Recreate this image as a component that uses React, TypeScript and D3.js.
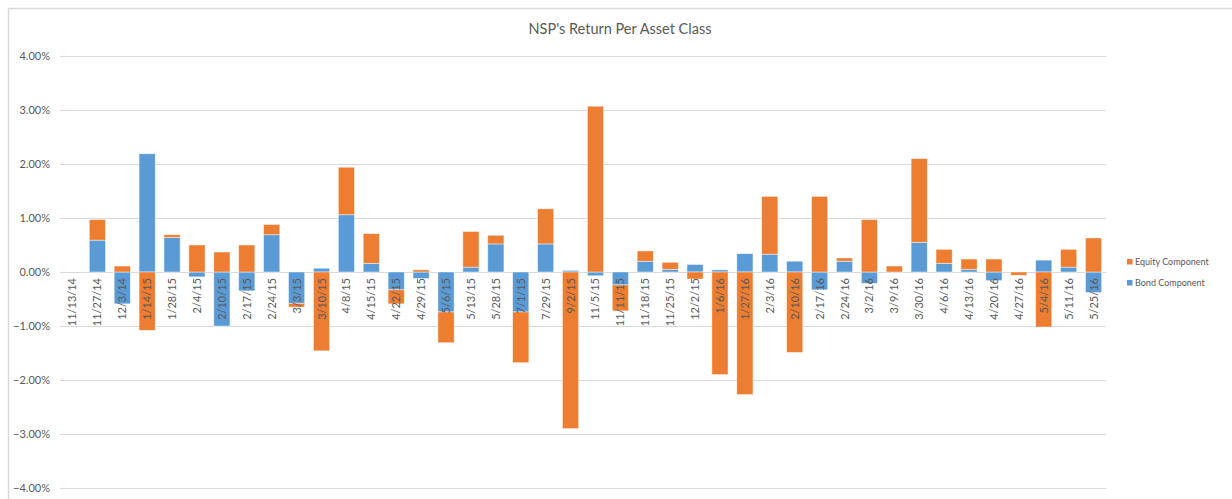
import React, { useEffect, useRef } from "react";
import * as d3 from "d3";

const categories = [
  "11/13/14", "11/27/14", "12/3/14", "1/14/15", "1/28/15", "2/4/15", "2/10/15", "2/17/15",
  "2/24/15", "3/3/15", "3/10/15", "4/8/15", "4/15/15", "4/22/15", "4/29/15", "5/6/15",
  "5/13/15", "5/28/15", "7/1/15", "7/29/15", "9/2/15", "11/5/15", "11/11/15", "11/18/15",
  "11/25/15", "12/2/15", "1/6/16", "1/27/16", "2/3/16", "2/10/16", "2/17/16", "2/24/16",
  "3/2/16", "3/9/16", "3/30/16", "4/6/16", "4/13/16", "4/20/16", "4/27/16", "5/4/16",
  "5/11/16", "5/25/16",
];

// values in percent
const bondComponent = [
  0, 0.59, -0.59, 2.19, 0.64, -0.09, -1.0, -0.35,
  0.69, -0.58, 0.07, 1.06, 0.16, -0.33, -0.12, -0.74,
  0.09, 0.52, -0.74, 0.52, 0.03, -0.07, -0.24, 0.2,
  0.05, 0.14, 0.04, 0.34, 0.33, 0.2, -0.33, 0.2,
  -0.21, 0, 0.55, 0.16, 0.05, -0.16, 0, 0.22,
  0.09, -0.38,
];

const equityComponent = [
  0, 0.38, 0.11, -1.08, 0.05, 0.5, 0.37, 0.5,
  0.19, -0.07, -1.46, 0.88, 0.55, -0.26, 0.04, -0.57,
  0.66, 0.16, -0.94, 0.65, -2.9, 3.07, -0.48, 0.19,
  0.13, -0.13, -1.9, -2.27, 1.07, -1.49, 1.4, 0.06,
  0.97, 0.11, 1.55, 0.26, 0.19, 0.24, -0.06, -1.02,
  0.33, 0.63,
];

const yTicks = [4, 3, 2, 1, 0, -1, -2, -3, -4];
const seriesNames = ["Bond Component", "Equity Component"];
const seriesColors = ["#5b9bd5", "#ed7d31"];
const title = "NSP's Return Per Asset Class";

export default function App() {
  const ref = useRef<SVGSVGElement | null>(null);

  useEffect(() => {
    const svg = d3.select(ref.current);
    svg.selectAll("*").remove();
    const W = 1232, H = 499;
    const left = 60, right = 1106, top = 56, bottom = 488;
    const font = "Lato, 'Open Sans', sans-serif";
    const textColor = "#595959";

    // frame
    svg.append("rect").attr("x", 8.5).attr("y", 8.5).attr("width", W).attr("height", H)
      .attr("fill", "#fff").attr("stroke", "#d9d9d9").attr("stroke-width", 1.5);

    svg.append("text").attr("x", 620).attr("y", 34).attr("text-anchor", "middle")
      .attr("font-family", font).attr("font-size", 14.5).attr("fill", textColor).text(title);

    const x = d3.scaleBand<string>().domain(categories).range([left, right]).paddingInner(0.35).paddingOuter(0.175);
    const y = d3.scaleLinear().domain([-4, 4]).range([bottom, top]);

    // gridlines
    svg.append("g").selectAll("line").data(yTicks).join("line")
      .attr("x1", left).attr("x2", right)
      .attr("y1", (d) => Math.round(y(d)) + 0.5).attr("y2", (d) => Math.round(y(d)) + 0.5)
      .attr("stroke", "#d9d9d9").attr("stroke-width", 1);

    svg.append("g").selectAll("text").data(yTicks).join("text")
      .attr("x", 50).attr("y", (d) => y(d) + 4).attr("text-anchor", "end")
      .attr("font-family", font).attr("font-size", 11).attr("fill", textColor)
      .text((d) => d3.format(".2f")(d) + "%");

    const rows = categories.map((c, i) => ({ cat: c, bond: bondComponent[i], equity: equityComponent[i] }));
    const stack = d3.stack<any>().keys(["bond", "equity"]).offset(d3.stackOffsetDiverging);
    const layers = stack(rows);

    layers.forEach((layer, li) => {
      svg.append("g").selectAll("rect").data(layer).join("rect")
        .attr("x", (d: any) => x(d.data.cat)!)
        .attr("width", x.bandwidth())
        .attr("y", (d: any) => y(Math.max(d[0], d[1])))
        .attr("height", (d: any) => Math.abs(y(d[0]) - y(d[1])))
        .attr("fill", seriesColors[li])
        .attr("stroke", "#fff").attr("stroke-opacity", 0.6).attr("stroke-width", 0.75);
    });

    // category labels
    svg.append("g").selectAll("text").data(categories).join("text")
      .attr("transform", (d) => `translate(${x(d)! + x.bandwidth() / 2 + 4},${y(0) + 6}) rotate(-90)`)
      .attr("text-anchor", "end")
      .attr("font-family", font).attr("font-size", 11).attr("fill", textColor)
      .text((d) => d);

    // legend
    const legendItems = [1, 0];
    const lg = svg.append("g");
    legendItems.forEach((si, k) => {
      const ly = 262 + k * 21;
      lg.append("rect").attr("x", 1127).attr("y", ly - 3).attr("width", 5.5).attr("height", 5.5)
        .attr("fill", seriesColors[si]);
      lg.append("text").attr("x", 1135).attr("y", ly + 3).attr("font-family", font)
        .attr("font-size", 9).attr("fill", textColor).text(seriesNames[si]);
    });
  }, []);

  return (
    <svg ref={ref} width={1232} height={499}
      style={{ position: "absolute", left: 0, top: 0, display: "block", background: "#fff" }} />
  );
}
